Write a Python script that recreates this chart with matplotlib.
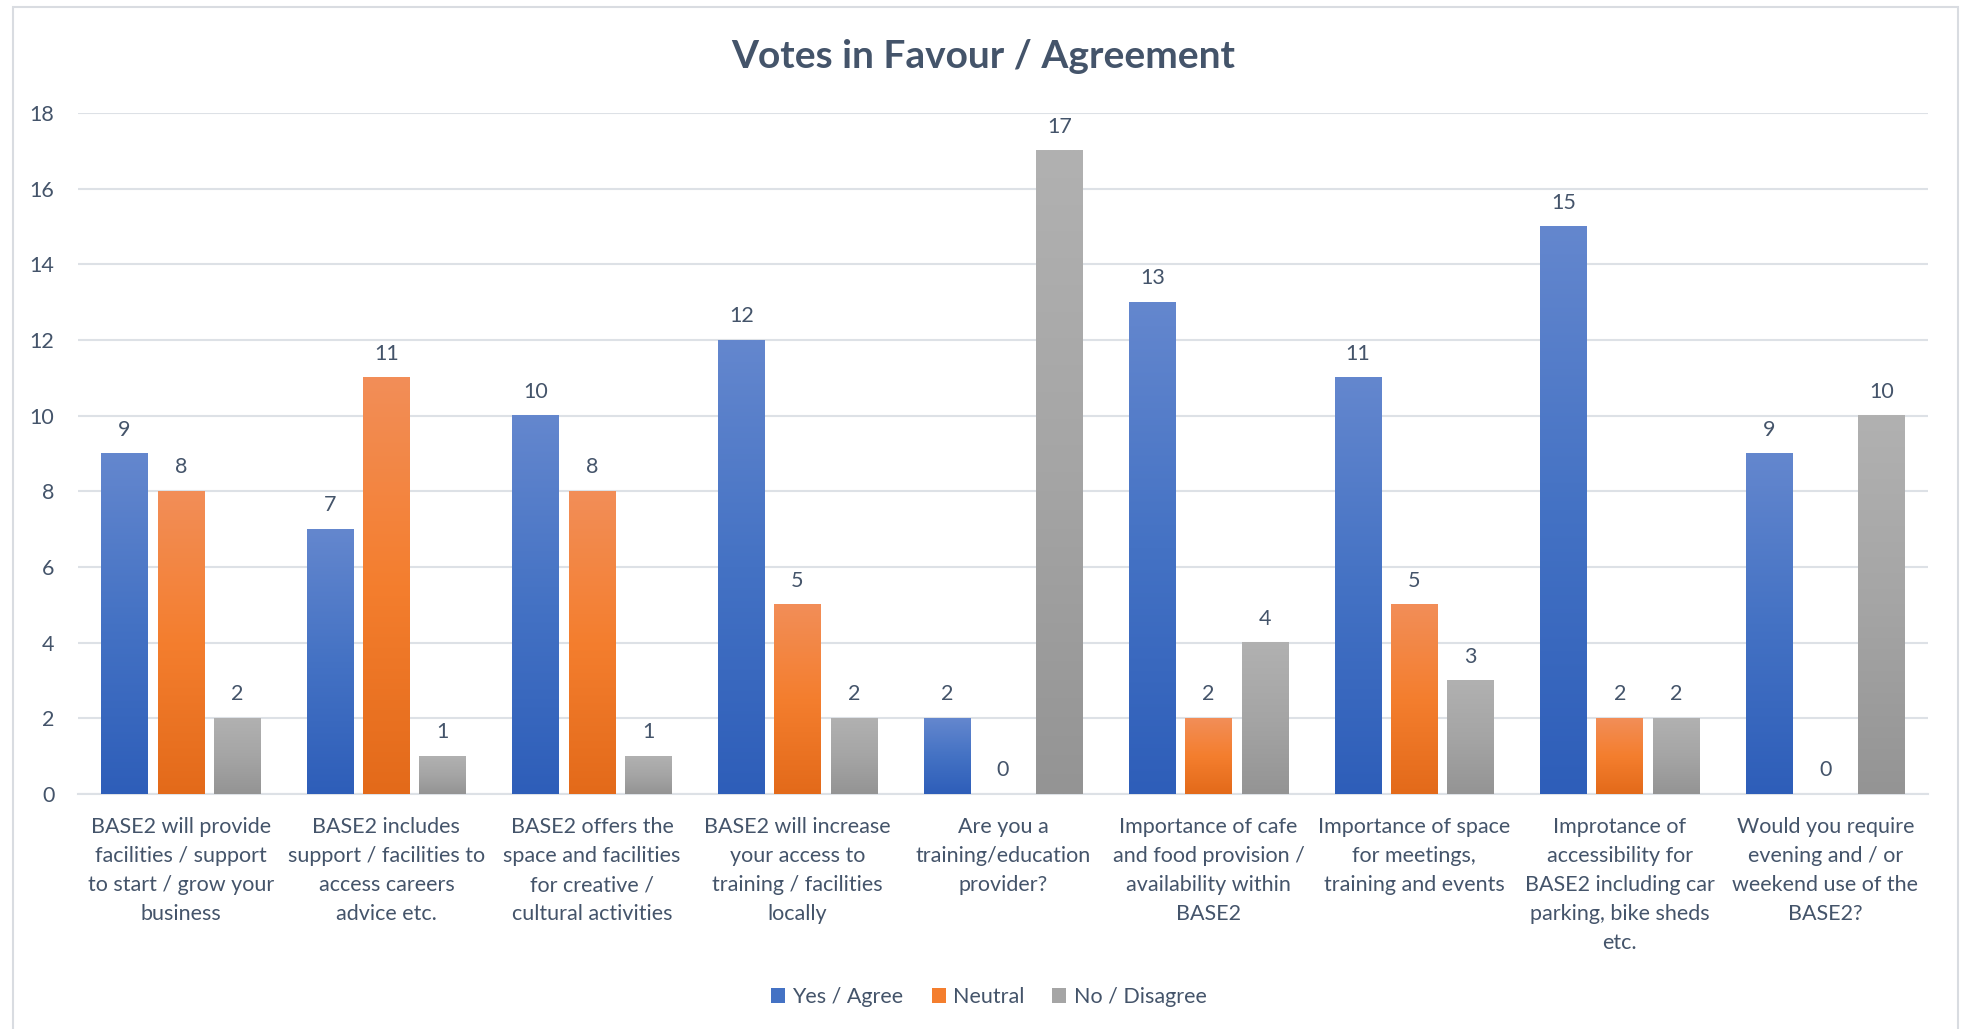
import numpy as np
import matplotlib
matplotlib.use("Agg")
import matplotlib.pyplot as plt
from matplotlib.colors import LinearSegmentedColormap
from matplotlib.patches import Patch, Rectangle

# --- Survey results ---
CATEGORIES = [
    "BASE2 will provide\nfacilities / support\nto start / grow your\nbusiness",
    "BASE2 includes\nsupport / facilities to\naccess careers\nadvice etc.",
    "BASE2 offers the\nspace and facilities\nfor creative /\ncultural activities",
    "BASE2 will increase\nyour access to\ntraining / facilities\nlocally",
    "Are you a\ntraining/education\nprovider?",
    "Importance of cafe\nand food provision /\navailability within\nBASE2",
    "Importance of space\nfor meetings,\ntraining and events",
    "Improtance of\naccessibility for\nBASE2 including car\nparking, bike sheds\netc.",
    "Would you require\nevening and / or\nweekend use of the\nBASE2?",
]
SERIES_NAMES = ["Yes / Agree", "Neutral", "No / Disagree"]
YES = [9, 7, 10, 12, 2, 13, 11, 15, 9]
NEUTRAL = [8, 11, 8, 5, 0, 2, 5, 2, 0]
NO = [2, 1, 1, 2, 17, 4, 3, 2, 10]

# gradient stops per series: top, middle, bottom
GRADIENTS = [
    ["#6487CE", "#4472C4", "#2E5EB9"],
    ["#F28E58", "#F47E2E", "#E36A1A"],
    ["#B1B1B1", "#A5A5A5", "#949494"],
]
TEXT_COLOR = "#44546A"
GRID_COLOR = "#DDE1E6"
FS = 15.5

plt.rcParams["font.family"] = ["Lato", "DejaVu Sans"]


def gradient_bars(ax, bars, stops):
    """Paint each bar with a vertical gradient, lighter at the top."""
    cmap = LinearSegmentedColormap.from_list("grad", stops[::-1])
    grad = np.linspace(0, 1, 256).reshape(-1, 1)
    for b in bars:
        x0, y0 = b.get_x(), b.get_y()
        w, h = b.get_width(), b.get_height()
        if h <= 0:
            continue
        ax.imshow(grad, cmap=cmap, origin="lower", aspect="auto",
                  extent=(x0, x0 + w, y0, y0 + h), zorder=3,
                  interpolation="bilinear")
        b.set_visible(False)


def main():
    fig = plt.figure(figsize=(19.66, 10.29), dpi=100)
    ax = fig.add_axes([0.0397, 0.2284, 0.941, 0.6618])

    x = np.arange(len(CATEGORIES))
    width = 0.226
    step = 0.274

    for i, (vals, stops) in enumerate(zip([YES, NEUTRAL, NO], GRADIENTS)):
        bars = ax.bar(x + (i - 1) * step, vals, width, color=stops[1], zorder=3)
        gradient_bars(ax, bars, stops)
        for b, v in zip(bars, vals):
            ax.annotate(str(v), (b.get_x() + b.get_width() / 2, v),
                        xytext=(0, 10), textcoords="offset points",
                        ha="center", va="bottom", fontsize=FS,
                        color=TEXT_COLOR)

    ax.set_xlim(-0.5, len(CATEGORIES) - 0.5)
    ax.set_ylim(0, 18)
    ax.set_yticks(range(0, 19, 2))
    ax.set_xticks(x)
    ax.set_xticklabels(CATEGORIES, fontsize=FS, color=TEXT_COLOR,
                       linespacing=1.57)
    ax.tick_params(axis="x", length=0, pad=16.5)
    ax.tick_params(axis="y", length=0, pad=17, labelsize=FS,
                   labelcolor=TEXT_COLOR)

    ax.grid(axis="y", color=GRID_COLOR, linewidth=1.5, zorder=0)
    for side in ["top", "right", "left"]:
        ax.spines[side].set_visible(False)
    ax.spines["bottom"].set_color(GRID_COLOR)
    ax.spines["bottom"].set_linewidth(1.5)

    fig.text(0.5, 0.945, "Votes in Favour / Agreement", ha="center",
             va="center", fontsize=28, fontweight="bold", color=TEXT_COLOR)

    handles = [Patch(facecolor=s[1]) for s in GRADIENTS]
    fig.legend(handles, SERIES_NAMES, loc="center", ncol=3,
               bbox_to_anchor=(0.503, 0.031), frameon=False, fontsize=FS,
               handlelength=0.65, handleheight=0.65, handletextpad=0.35,
               columnspacing=1.3, labelcolor=TEXT_COLOR)

    # light frame around the chart area
    fig.patches.append(Rectangle((13 / 1966, -0.05), (1958 - 13) / 1966,
                                 1.05 - 7 / 1029, transform=fig.transFigure,
                                 fill=False, edgecolor="#D9DCE1",
                                 linewidth=1.5))

    fig.savefig("out.png", dpi=100, facecolor="white")


if __name__ == "__main__":
    main()
